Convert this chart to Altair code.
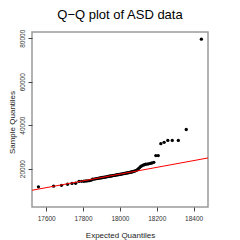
import altair as alt
import pandas as pd

# Expected (theoretical) quantiles and sample quantiles
expected = [17558, 17640, 17683, 17716, 17740, 17760, 17778, 17792, 17805, 17816,
            17826, 17835, 17844, 17852, 17860, 17867, 17874, 17881, 17887, 17893,
            17899, 17905, 17911, 17916, 17921, 17927, 17932, 17937, 17942, 17947,
            17952, 17957, 17962, 17967, 17972, 17976, 17981, 17986, 17991, 17995,
            18000, 18005, 18009, 18014, 18019, 18024, 18028, 18033, 18038, 18043,
            18048, 18053, 18058, 18063, 18068, 18073, 18079, 18084, 18089, 18095,
            18101, 18107, 18113, 18119, 18126, 18133, 18140, 18148, 18156, 18165,
            18174, 18184, 18195, 18208, 18222, 18240, 18260, 18284, 18317, 18360,
            18442]
sample = [11600, 11900, 12300, 12800, 13200, 13250, 14100, 14150, 14200, 14300,
          14400, 14500, 14700, 15100, 15200, 15300, 15400, 15500, 15600, 15700,
          15800, 15900, 16000, 16050, 16100, 16200, 16300, 16400, 16500, 16550,
          16600, 16700, 16800, 16850, 16900, 17000, 17100, 17150, 17200, 17300,
          17350, 17450, 17500, 17600, 17700, 17750, 17800, 17900, 18000, 18050,
          18150, 18250, 18350, 18450, 18550, 18700, 18850, 19000, 19200, 19500,
          20000, 20500, 21000, 21300, 21600, 21800, 22000, 22100, 22200, 22400,
          22600, 22900, 26000, 26000, 31500, 32100, 33000, 33000, 33000, 38000,
          79600]

# Reference line (qqline) end points
line_x = [17523, 18478]
line_y = [10040, 24910]

x_ticks = [17600, 17800, 18000, 18200, 18400]
y_ticks = [20000, 40000, 60000, 80000]

pts = pd.DataFrame({"expected": expected, "sample": sample})
ln = pd.DataFrame({"expected": line_x, "sample": line_y})

FONT = "Liberation Sans"

xscale = alt.Scale(domain=[17523, 18478], nice=False, zero=False)
yscale = alt.Scale(domain=[2330, 82900], nice=False, zero=False)

xaxis = alt.Axis(values=x_ticks, format="d", tickSize=4, tickColor="#444",
                 tickWidth=1, domain=False, grid=False,
                 labelFont=FONT, labelFontSize=6.5, labelColor="#333",
                 labelPadding=4, labelFlush=False, labelOverlap=False,
                 title="Expected Quantiles", titleFont=FONT, titleFontSize=8,
                 titleFontWeight="normal", titleColor="#222",
                 titleX=88, titleY=30.5, titleBaseline="alphabetic",
                 titleAlign="center")
yaxis = alt.Axis(values=y_ticks, format="d", tickSize=4, tickColor="#444",
                 tickWidth=1, domain=False, grid=False,
                 labelFont=FONT, labelFontSize=6.5, labelColor="#333",
                 labelAngle=270, labelAlign="center", labelBaseline="bottom",
                 labelPadding=3, labelFlush=False, labelOverlap=False,
                 title="Sample Quantiles", titleFont=FONT, titleFontSize=8,
                 titleFontWeight="normal", titleColor="#222",
                 titleAngle=270, titleX=-17.5, titleY=90,
                 titleBaseline="alphabetic", titleAlign="center")

points = alt.Chart(pts).mark_circle(size=11, color="black", opacity=1).encode(
    x=alt.X("expected:Q", scale=xscale, axis=xaxis),
    y=alt.Y("sample:Q", scale=yscale, axis=yaxis),
)

line = alt.Chart(ln).mark_line(color="red", strokeWidth=1, clip=True).encode(
    x=alt.X("expected:Q", scale=xscale),
    y=alt.Y("sample:Q", scale=yscale),
)

chart = alt.layer(points, line).properties(
    width=176,
    height=175,
    title=alt.Title("Q\u2212Q plot of ASD data", font=FONT, fontSize=13,
                    fontWeight="normal", color="black", anchor="middle",
                    offset=7),
    autosize=alt.AutoSizeParams(type="none"),
    padding={"left": 24, "top": 24, "right": 8, "bottom": 33},
    background="white",
).configure_view(stroke="#9a9a9a", strokeWidth=1.5)

chart.save("out.html", embed_options={"renderer": "svg", "actions": False})
